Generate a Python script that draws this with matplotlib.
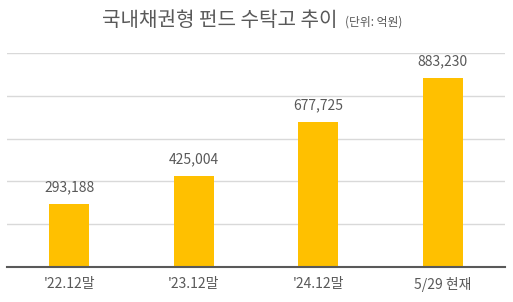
#!/usr/bin/env python3

import matplotlib.pyplot as plt

plt.rcParams["font.family"] = ["Noto Sans CJK KR", "DejaVu Sans"]

categories = ["'22.12말", "'23.12말", "'24.12말", "5/29 현재"]
values = [293188, 425004, 677725, 883230]
y_ticks = [0, 200000, 400000, 600000, 800000, 1000000]

bar_color = "#FFC000"
text_color = "#595959"


def main() -> None:
    fig = plt.figure(figsize=(5.13, 3.02), dpi=100)
    ax = fig.add_axes([7 / 513, 35 / 302, 498 / 513, 214 / 302])

    x = range(len(categories))
    bars = ax.bar(x, values, width=0.32, color=bar_color, zorder=3)

    for bar, value in zip(bars, values):
        ax.annotate(
            f"{value:,}",
            (bar.get_x() + bar.get_width() / 2, bar.get_height()),
            xytext=(0, 7),
            textcoords="offset points",
            ha="center",
            va="bottom",
            fontsize=10,
            color=text_color,
        )

    ax.set_xlim(-0.5, len(categories) - 0.5)
    ax.set_ylim(0, y_ticks[-1])
    ax.set_yticks(y_ticks)
    ax.yaxis.grid(True, color="#d9d9d9", linewidth=1, zorder=0)
    ax.set_yticklabels([])
    ax.tick_params(axis="y", length=0)
    ax.set_xticks(list(x))
    ax.set_xticklabels(categories, fontsize=10, color=text_color)
    ax.tick_params(axis="x", length=0, pad=7)

    for side in ["top", "left", "right"]:
        ax.spines[side].set_visible(False)
    ax.spines["bottom"].set_color("#595959")
    ax.spines["bottom"].set_linewidth(1.5)
    ax.spines["bottom"].set_zorder(4)

    fig.text(
        338 / 513, 1 - 26 / 302, "국내채권형 펀드 수탁고 추이",
        ha="right", va="baseline", fontsize=14.5, color=text_color,
    )
    fig.text(
        345 / 513, 1 - 26 / 302, "(단위: 억원)",
        ha="left", va="baseline", fontsize=8.5, color=text_color,
    )

    fig.savefig("out.png", dpi=100)


if __name__ == "__main__":
    main()
